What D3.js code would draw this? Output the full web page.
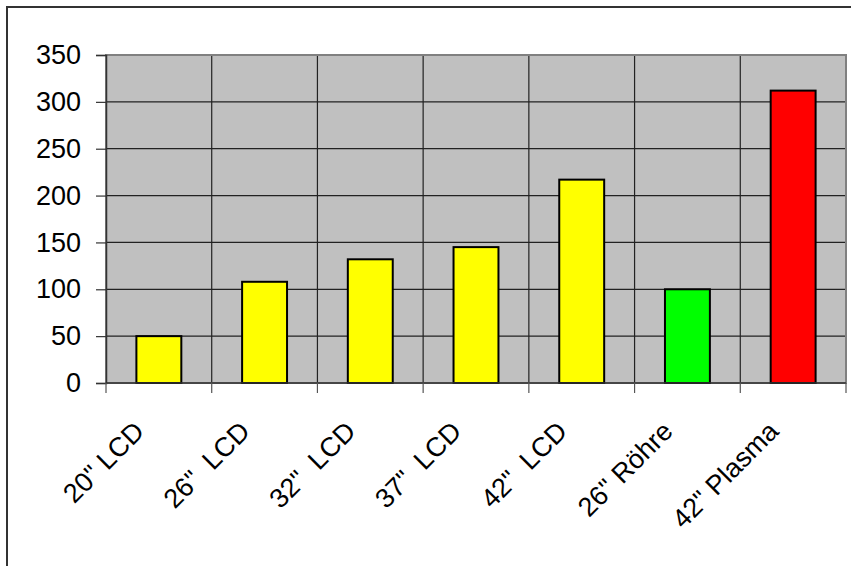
<!DOCTYPE html>
<html>
<head>
<meta charset="utf-8">
<script src="https://cdn.jsdelivr.net/npm/d3@7"></script>
<style>
  body { margin: 0; background: #fff; }
  svg text { font-family: "Liberation Sans", Arial, sans-serif; fill: #000; }
</style>
</head>
<body>
<div id="chart"></div>
<script>
// Stromverbrauch nach Geraetetyp
const categories = ['20" LCD', '26"  LCD', '32"  LCD', '37"  LCD', '42"  LCD', '26" Röhre', '42" Plasma'];
const values = [50, 108, 132, 145, 217, 100, 312];
const barColors = ["#ffff00", "#ffff00", "#ffff00", "#ffff00", "#ffff00", "#00ff00", "#ff0000"];
const yTicks = [0, 50, 100, 150, 200, 250, 300, 350];

let svgWidth = 851, svgHeight = 566;
let margin = {top: 55, right: 5, bottom: 183, left: 106},
    width = svgWidth - margin.left - margin.right,
    height = svgHeight - margin.top - margin.bottom;

let svg = d3.select("#chart").append("svg")
    .attr("width", svgWidth)
    .attr("height", svgHeight);

// outer frame (only top and left edge visible)
svg.append("path")
    .attr("d", "M7,566V7H851")
    .attr("fill", "none")
    .attr("stroke", "#333")
    .attr("stroke-width", 2);

let x = d3.scaleBand().domain(categories).range([0, width]).padding(0),
    y = d3.scaleLinear().domain([0, 350]).range([height, 0]),
    g = svg.append("g")
        .attr("transform", "translate(" + margin.left + "," + margin.top + ")");

g.append("rect")
    .attr("width", width)
    .attr("height", height)
    .attr("fill", "#c0c0c0");

// horizontal grid
g.selectAll(".hgrid")
    .data(yTicks)
    .enter().append("line")
    .attr("class", "hgrid")
    .attr("x1", 0).attr("x2", width)
    .attr("y1", d => y(d)).attr("y2", d => y(d))
    .attr("stroke", "#222")
    .attr("stroke-width", 1.2);

// vertical grid at category boundaries
g.selectAll(".vgrid")
    .data(categories.slice(1))
    .enter().append("line")
    .attr("class", "vgrid")
    .attr("x1", d => x(d)).attr("x2", d => x(d))
    .attr("y1", 0).attr("y2", height)
    .attr("stroke", "#222")
    .attr("stroke-width", 1.2);

// plot area border
g.append("rect")
    .attr("width", width)
    .attr("height", height)
    .attr("fill", "none")
    .attr("stroke", "#808080")
    .attr("stroke-width", 2);

// bars
let barW = x.bandwidth() * 0.425;
g.selectAll(".bar")
    .data(values)
    .enter().append("rect")
    .attr("class", "bar")
    .attr("x", (d, i) => x(categories[i]) + (x.bandwidth() - barW) / 2)
    .attr("y", d => y(d))
    .attr("width", barW)
    .attr("height", d => height - y(d))
    .attr("fill", (d, i) => barColors[i])
    .attr("stroke", "#000")
    .attr("stroke-width", 2);

// y axis
let yAxis = g.append("g")
    .attr("class", "axis axis--y")
    .call(d3.axisLeft(y).tickValues(yTicks).tickSize(10).tickPadding(15));
yAxis.select(".domain").attr("stroke", "#333").attr("stroke-width", 1.5);
yAxis.selectAll(".tick line").attr("stroke", "#333").attr("stroke-width", 1.2);
yAxis.selectAll(".tick text").attr("font-size", 27).attr("font-family", "Liberation Sans, Arial, sans-serif");

// x axis with ticks at category boundaries
let xb = d3.scaleLinear().domain([0, categories.length]).range([0, width]);
let xAxis = g.append("g")
    .attr("class", "axis axis--x")
    .attr("transform", "translate(0," + height + ")");
xAxis.append("line")
    .attr("x1", 0).attr("x2", width)
    .attr("stroke", "#333").attr("stroke-width", 1.5);
xAxis.selectAll(".xtick")
    .data(d3.range(categories.length + 1))
    .enter().append("line")
    .attr("class", "xtick")
    .attr("x1", d => xb(d)).attr("x2", d => xb(d))
    .attr("y1", 0).attr("y2", 10)
    .attr("stroke", "#555").attr("stroke-width", 1.2);
xAxis.selectAll(".xlabel")
    .data(categories)
    .enter().append("text")
    .attr("class", "xlabel")
    .attr("text-anchor", "end")
    .attr("font-size", 27)
    .attr("transform", d => "translate(" + (x(d) + x.bandwidth() / 2 - 13) + ",50) rotate(-45)")
    .style("white-space", "pre")
    .text(d => d);
</script>
</body>
</html>
